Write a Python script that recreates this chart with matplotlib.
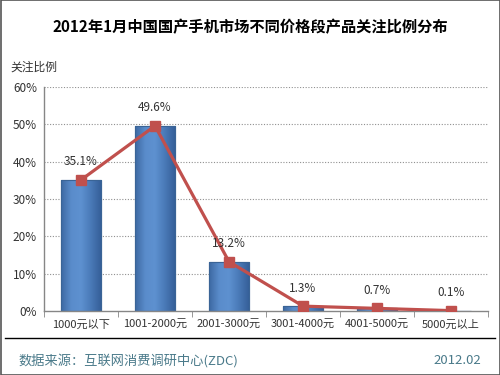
import matplotlib
matplotlib.use("Agg")
import matplotlib.pyplot as plt
from matplotlib.lines import Line2D
from matplotlib.patches import Rectangle
from matplotlib.colors import LinearSegmentedColormap
import numpy as np

plt.rcParams['font.family'] = ['Noto Sans CJK SC', 'DejaVu Sans']

categories = ["1000元以下", "1001-2000元", "2001-3000元", "3001-4000元", "4001-5000元", "5000元以上"]
values = [35.1, 49.6, 13.2, 1.3, 0.7, 0.1]
yticks = [0, 10, 20, 30, 40, 50, 60]
title = "2012年1月中国国产手机市场不同价格段产品关注比例分布"
ylabel = "关注比例"
source = "数据来源：互联网消费调研中心(ZDC)"
date = "2012.02"

fig = plt.figure(figsize=(5, 3.75), dpi=100)
ax = fig.add_axes([0.088, 0.1707, 0.888, 0.5973])

x = np.arange(len(categories))
bw = 0.53
bars = ax.bar(x, values, width=bw, color="#4F81BD", edgecolor="#3A6496", linewidth=0.8, zorder=2)

cmap = LinearSegmentedColormap.from_list("barg", ["#3D69A3", "#5A8CCB", "#5E91D0", "#4A7AB8", "#36609A"])
grad = np.linspace(0, 1, 64).reshape(1, -1)
for b in bars:
    bx, by = b.get_x(), b.get_y()
    w, h = b.get_width(), b.get_height()
    im = ax.imshow(grad, cmap=cmap, aspect="auto", extent=[bx, bx + w, by, by + h],
                   zorder=2.1, interpolation="bicubic")
    im.set_clip_path(b)
    edge = Rectangle((bx, by), w, h, fill=False, edgecolor="#3A6496", linewidth=0.8, zorder=2.2)
    ax.add_patch(edge)

ax.plot(x, values, color="#C0504D", linewidth=2.3, marker="s", markersize=7.5,
        markerfacecolor="#C0504D", markeredgecolor="#C0504D", zorder=3)

for xi, v in zip(x, values):
    ax.annotate(f"{v}%", (xi, v), xytext=(0, 13), textcoords="offset points",
                ha="center", va="center", fontsize=8.5, color="#333333")

ax.set_xlim(-0.5, len(categories) - 0.5)
ax.set_ylim(0, 60)
ax.set_yticks(yticks)
ax.set_yticklabels([f"{t}%" for t in yticks], fontsize=8.5, color="#333333")
ax.set_xticks(x)
ax.set_xticklabels(categories, fontsize=8, color="#333333")
ax.tick_params(axis="x", length=0, pad=6)
ax.tick_params(axis="y", length=0, pad=5)
ax.set_xticks(np.arange(-0.5, len(categories), 1.0), minor=True)
ax.tick_params(axis="x", which="minor", length=4, color="#868686", direction="out")

for t in yticks[1:]:
    ax.axhline(t, color="#909090", linestyle=(0, (1, 1.5)), linewidth=0.8, zorder=1)

for s in ["top", "right"]:
    ax.spines[s].set_visible(False)
for s in ["left", "bottom"]:
    ax.spines[s].set_color("#868686")
    ax.spines[s].set_linewidth(1.0)

fig.text(0.5, 0.928, title, ha="center", va="center", fontsize=11, fontweight="bold", color="#000000")
fig.text(0.02, 0.822, ylabel, ha="left", va="center", fontsize=8.5, color="#333333")

fig.add_artist(Line2D([0.01, 0.99], [1 - 338 / 375] * 2, color="#000000", linewidth=1.0))
fig.text(0.036, 1 - 361 / 375, source, ha="left", va="center", fontsize=9.5, color="#4A7A8A")
fig.text(0.962, 1 - 361 / 375, date, ha="right", va="center", fontsize=9.5, color="#4A7A8A")

fig.add_artist(Rectangle((0.001, 0.001), 0.998, 0.998, transform=fig.transFigure,
                         fill=False, edgecolor="#555555", linewidth=1.2))

fig.savefig("out.png", dpi=100)
